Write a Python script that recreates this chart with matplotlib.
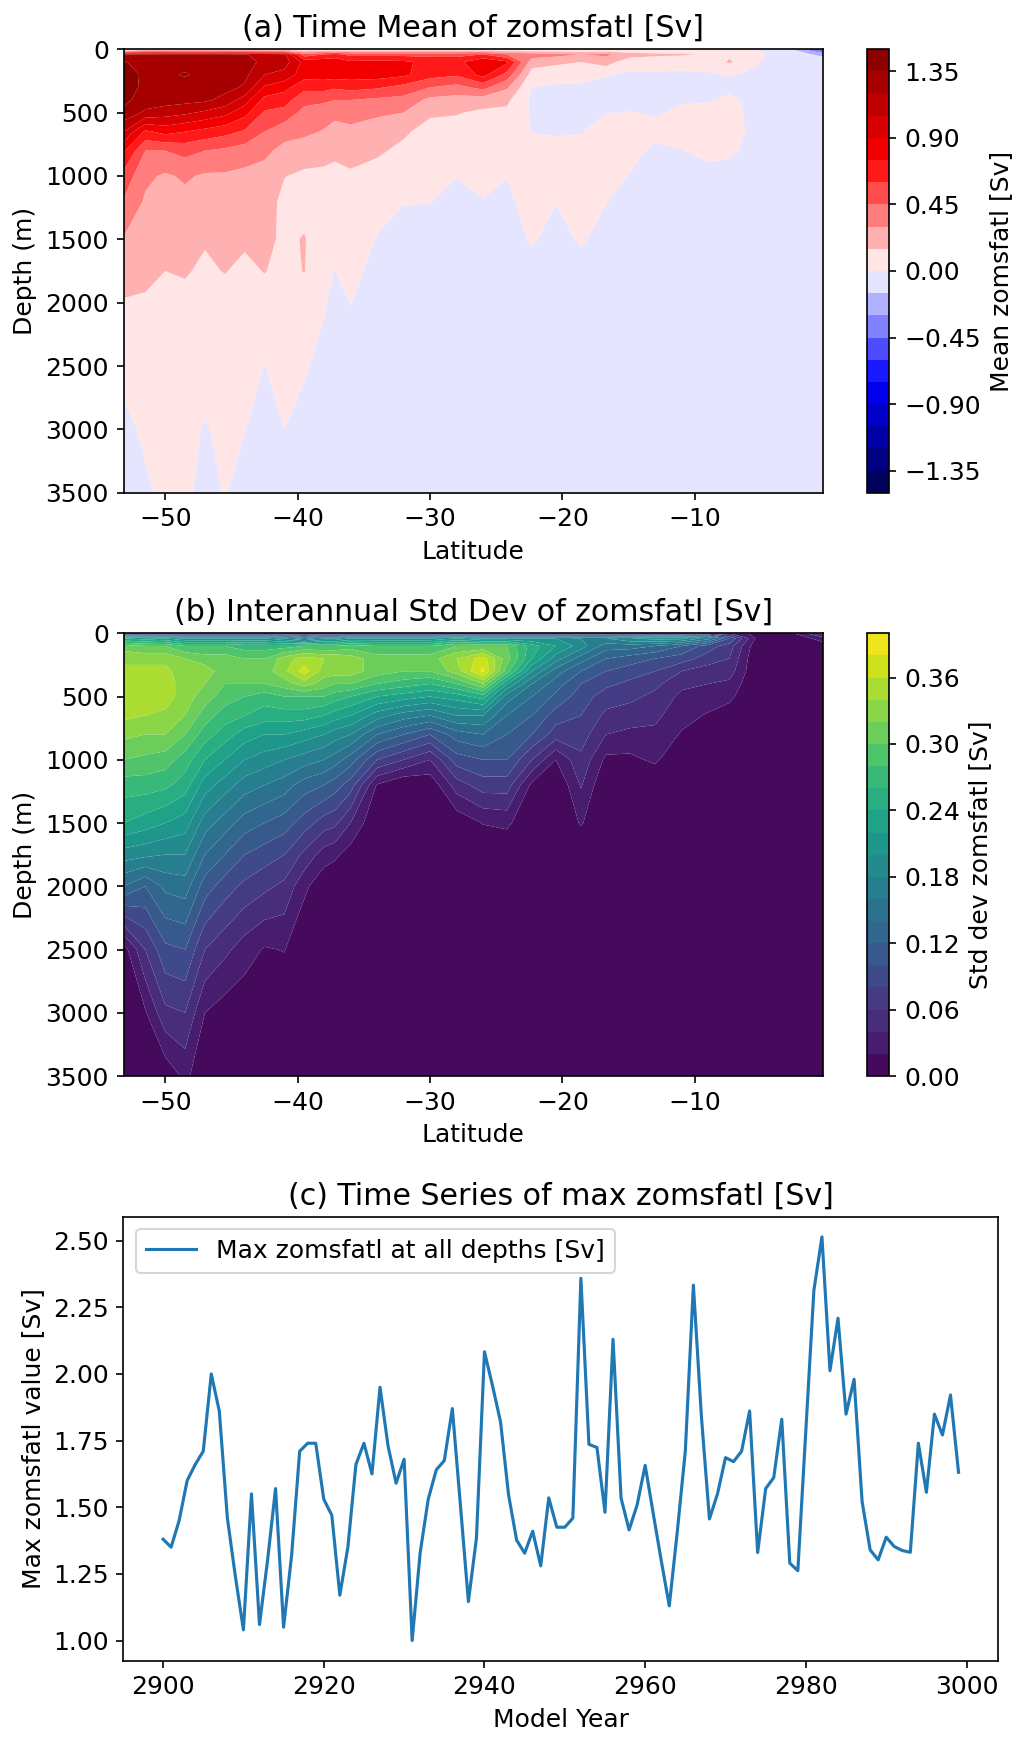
import numpy as np
import matplotlib
matplotlib.use("Agg")
import matplotlib.pyplot as plt

plt.rcParams["font.size"] = 12

# ---------------- data ----------------
LAT = [-53.15, -51.5, -50.0, -48.5, -47.0, -45.5, -44.0, -42.5, -41.0, -39.5,
       -38.0, -37.2, -36.0, -34.0, -32.0, -30.0, -28.0, -26.0, -24.2, -22.3,
       -20.5, -18.6, -16.7, -14.9, -13.0, -11.0, -9.0, -7.4, -5.3, -3.0, -0.3]

DEPTH = [0, 40, 100, 200, 300, 400, 500, 650, 800, 1000, 1200, 1500, 1750,
         2000, 2500, 3000, 3500]

# time-mean zomsfatl [Sv]; one profile (over DEPTH) per latitude in LAT
MEAN_PROFILES = [
    [-0.30, 1.22, 1.36, 1.40, 1.41, 1.39, 1.31, 1.05, 0.78, 0.55, 0.44, 0.29, 0.21, 0.14, 0.03, -0.03, -0.06],
    [0.00, 1.22, 1.30, 1.33, 1.32, 1.28, 1.17, 0.72, 0.45, 0.33, 0.28, 0.24, 0.17, 0.14, 0.07, 0.02, -0.02],
    [0.00, 1.24, 1.31, 1.33, 1.31, 1.27, 1.12, 0.80, 0.45, 0.28, 0.25, 0.21, 0.15, 0.12, 0.08, 0.05, 0.03],
    [0.00, 1.25, 1.31, 1.36, 1.30, 1.25, 1.08, 0.75, 0.50, 0.32, 0.26, 0.22, 0.16, 0.12, 0.07, 0.04, 0.02],
    [0.00, 1.25, 1.32, 1.32, 1.28, 1.23, 1.02, 0.70, 0.45, 0.28, 0.22, 0.16, 0.13, 0.09, 0.05, -0.01, -0.03],
    [0.00, 1.24, 1.30, 1.29, 1.25, 1.15, 0.95, 0.65, 0.42, 0.28, 0.23, 0.20, 0.155, 0.10, 0.05, 0.03, 0.005],
    [0.00, 1.22, 1.26, 1.24, 1.18, 0.98, 0.80, 0.58, 0.38, 0.26, 0.22, 0.17, 0.12, 0.08, 0.04, 0.002, -0.03],
    [0.00, 1.12, 1.16, 1.05, 0.88, 0.70, 0.58, 0.45, 0.33, 0.25, 0.22, 0.19, 0.155, 0.10, -0.002, -0.03, -0.05],
    [0.00, 1.10, 1.12, 1.00, 0.80, 0.66, 0.55, 0.35, 0.26, 0.155, 0.11, 0.12, 0.11, 0.08, 0.05, 0.00, -0.03],
    [0.00, 0.50, 0.85, 0.82, 0.64, 0.50, 0.40, 0.33, 0.23, 0.12, 0.10, 0.16, 0.155, 0.07, 0.01, -0.03, -0.05],
    [0.00, 0.60, 0.85, 0.82, 0.65, 0.48, 0.36, 0.29, 0.20, 0.12, 0.07, 0.05, 0.03, 0.01, -0.03, -0.05, -0.05],
    [0.00, 0.65, 0.85, 0.82, 0.62, 0.45, 0.33, 0.26, 0.18, 0.11, 0.07, 0.03, -0.002, -0.03, -0.04, -0.05, -0.05],
    [0.00, 0.55, 0.78, 0.82, 0.65, 0.45, 0.35, 0.27, 0.20, 0.13, 0.09, 0.06, 0.03, 0.002, -0.04, -0.05, -0.05],
    [0.00, 0.55, 0.80, 0.82, 0.62, 0.42, 0.32, 0.24, 0.17, 0.10, 0.03, -0.005, -0.03, -0.04, -0.05, -0.05, -0.05],
    [0.00, 0.55, 0.78, 0.78, 0.55, 0.40, 0.30, 0.17, 0.12, 0.07, 0.003, -0.03, -0.04, -0.04, -0.05, -0.05, -0.05],
    [0.00, 0.55, 0.70, 0.66, 0.45, 0.26, 0.17, 0.10, 0.08, 0.05, 0.002, -0.03, -0.04, -0.04, -0.04, -0.04, -0.04],
    [0.00, 0.55, 0.70, 0.62, 0.40, 0.24, 0.16, 0.09, 0.06, 0.002, -0.03, -0.04, -0.04, -0.04, -0.04, -0.04, -0.04],
    [0.00, 0.60, 0.88, 0.80, 0.50, 0.22, 0.12, 0.08, 0.06, 0.03, -0.003, -0.04, -0.04, -0.04, -0.04, -0.04, -0.04],
    [0.00, 0.45, 0.78, 0.55, 0.32, 0.18, 0.12, 0.08, 0.05, 0.002, -0.02, -0.04, -0.04, -0.04, -0.04, -0.04, -0.04],
    [0.00, 0.38, 0.22, 0.08, 0.00, -0.03, -0.02, -0.003, 0.03, 0.05, 0.04, 0.01, -0.03, -0.04, -0.04, -0.04, -0.04],
    [0.00, 0.35, 0.18, 0.06, -0.02, -0.04, -0.03, -0.01, 0.03, 0.04, 0.002, -0.03, -0.04, -0.04, -0.04, -0.04, -0.04],
    [0.00, 0.30, 0.15, 0.04, -0.02, -0.04, -0.03, -0.005, 0.03, 0.04, 0.03, 0.01, -0.03, -0.04, -0.04, -0.04, -0.04],
    [0.00, 0.33, 0.22, 0.005, -0.03, -0.03, -0.002, 0.04, 0.05, 0.04, 0.003, -0.03, -0.04, -0.04, -0.04, -0.04, -0.04],
    [0.00, 0.22, 0.05, -0.02, -0.03, -0.03, 0.003, 0.04, 0.03, -0.005, -0.03, -0.04, -0.04, -0.04, -0.04, -0.04, -0.04],
    [0.00, 0.18, 0.06, -0.02, -0.03, -0.03, -0.01, 0.03, -0.02, -0.04, -0.04, -0.04, -0.04, -0.04, -0.04, -0.04, -0.04],
    [0.00, 0.17, 0.04, -0.02, -0.03, -0.01, 0.02, 0.04, -0.003, -0.04, -0.04, -0.04, -0.04, -0.04, -0.04, -0.04, -0.04],
    [0.00, 0.13, 0.04, -0.01, -0.03, -0.01, 0.03, 0.05, 0.03, -0.04, -0.04, -0.04, -0.04, -0.04, -0.04, -0.04, -0.04],
    [0.00, 0.12, 0.17, 0.005, -0.02, 0.02, 0.04, 0.05, 0.02, -0.04, -0.04, -0.04, -0.04, -0.04, -0.04, -0.04, -0.04],
    [0.00, 0.02, 0.005, -0.01, -0.02, -0.03, -0.04, -0.04, -0.04, -0.04, -0.04, -0.04, -0.04, -0.04, -0.04, -0.04, -0.04],
    [-0.10, -0.05, -0.04, -0.04, -0.04, -0.04, -0.04, -0.04, -0.04, -0.04, -0.04, -0.04, -0.04, -0.04, -0.04, -0.04, -0.04],
    [-0.60, -0.20, -0.05, -0.04, -0.04, -0.04, -0.04, -0.04, -0.04, -0.04, -0.04, -0.04, -0.04, -0.04, -0.04, -0.04, -0.04],
]

# interannual std dev of zomsfatl [Sv]; one profile (over DEPTH) per latitude
STD_PROFILES = [
    [0.06, 0.24, 0.31, 0.335, 0.345, 0.35, 0.35, 0.345, 0.325, 0.30, 0.27, 0.24, 0.19, 0.14, 0.01, 0.003, 0.0],
    [0.05, 0.23, 0.30, 0.335, 0.345, 0.35, 0.35, 0.34, 0.32, 0.295, 0.27, 0.23, 0.185, 0.12, 0.06, 0.018, 0.0],
    [0.05, 0.22, 0.30, 0.335, 0.345, 0.35, 0.35, 0.335, 0.32, 0.29, 0.265, 0.22, 0.18, 0.145, 0.095, 0.055, 0.005],
    [0.05, 0.20, 0.28, 0.32, 0.33, 0.33, 0.33, 0.32, 0.30, 0.27, 0.25, 0.21, 0.18, 0.15, 0.10, 0.06, 0.025],
    [0.05, 0.20, 0.28, 0.31, 0.33, 0.32, 0.31, 0.29, 0.27, 0.24, 0.21, 0.17, 0.14, 0.11, 0.06, 0.02, 0.005],
    [0.05, 0.20, 0.28, 0.31, 0.31, 0.30, 0.29, 0.27, 0.25, 0.22, 0.19, 0.15, 0.12, 0.09, 0.045, 0.01, 0.0],
    [0.05, 0.20, 0.27, 0.30, 0.31, 0.30, 0.28, 0.26, 0.23, 0.20, 0.17, 0.13, 0.10, 0.075, 0.03, 0.005, 0.0],
    [0.05, 0.20, 0.27, 0.30, 0.31, 0.30, 0.27, 0.25, 0.22, 0.19, 0.16, 0.12, 0.09, 0.065, 0.018, 0.0, 0.0],
    [0.05, 0.18, 0.27, 0.33, 0.335, 0.31, 0.28, 0.25, 0.22, 0.18, 0.15, 0.11, 0.08, 0.055, 0.021, 0.0, 0.0],
    [0.05, 0.15, 0.28, 0.35, 0.37, 0.33, 0.28, 0.25, 0.21, 0.17, 0.13, 0.09, 0.055, 0.025, 0.0, 0.0, 0.0],
    [0.05, 0.18, 0.28, 0.34, 0.33, 0.31, 0.28, 0.24, 0.20, 0.16, 0.12, 0.07, 0.03, 0.005, 0.0, 0.0, 0.0],
    [0.05, 0.18, 0.28, 0.34, 0.33, 0.30, 0.27, 0.23, 0.19, 0.15, 0.11, 0.065, 0.025, 0.0, 0.0, 0.0, 0.0],
    [0.05, 0.20, 0.29, 0.33, 0.33, 0.30, 0.26, 0.22, 0.18, 0.13, 0.09, 0.04, 0.01, 0.0, 0.0, 0.0, 0.0],
    [0.05, 0.20, 0.28, 0.31, 0.31, 0.28, 0.24, 0.19, 0.14, 0.08, 0.018, 0.0, 0.0, 0.0, 0.0, 0.0, 0.0],
    [0.05, 0.20, 0.28, 0.31, 0.30, 0.27, 0.23, 0.17, 0.12, 0.06, 0.0, 0.0, 0.0, 0.0, 0.0, 0.0, 0.0],
    [0.05, 0.20, 0.28, 0.31, 0.30, 0.26, 0.22, 0.16, 0.10, 0.04, 0.005, 0.0, 0.0, 0.0, 0.0, 0.0, 0.0],
    [0.05, 0.22, 0.30, 0.34, 0.33, 0.28, 0.23, 0.18, 0.13, 0.09, 0.05, 0.005, 0.0, 0.0, 0.0, 0.0, 0.0],
    [0.05, 0.20, 0.30, 0.37, 0.385, 0.32, 0.25, 0.18, 0.14, 0.10, 0.07, 0.021, 0.0, 0.0, 0.0, 0.0, 0.0],
    [0.05, 0.20, 0.30, 0.31, 0.29, 0.22, 0.17, 0.14, 0.12, 0.10, 0.07, 0.025, 0.0, 0.0, 0.0, 0.0, 0.0],
    [0.05, 0.20, 0.25, 0.24, 0.20, 0.16, 0.14, 0.12, 0.10, 0.06, 0.015, 0.0, 0.0, 0.0, 0.0, 0.0, 0.0],
    [0.05, 0.20, 0.22, 0.19, 0.15, 0.13, 0.115, 0.09, 0.07, 0.02, 0.0, 0.0, 0.0, 0.0, 0.0, 0.0, 0.0],
    [0.05, 0.18, 0.19, 0.15, 0.12, 0.10, 0.09, 0.08, 0.07, 0.055, 0.042, 0.022, 0.0, 0.0, 0.0, 0.0, 0.0],
    [0.05, 0.18, 0.15, 0.12, 0.10, 0.085, 0.07, 0.055, 0.04, 0.015, 0.0, 0.0, 0.0, 0.0, 0.0, 0.0, 0.0],
    [0.05, 0.20, 0.15, 0.11, 0.09, 0.075, 0.065, 0.05, 0.035, 0.015, 0.0, 0.0, 0.0, 0.0, 0.0, 0.0, 0.0],
    [0.05, 0.21, 0.14, 0.10, 0.08, 0.065, 0.055, 0.045, 0.035, 0.024, 0.0, 0.0, 0.0, 0.0, 0.0, 0.0, 0.0],
    [0.05, 0.21, 0.12, 0.09, 0.06, 0.045, 0.035, 0.027, 0.018, 0.0, 0.0, 0.0, 0.0, 0.0, 0.0, 0.0, 0.0],
    [0.05, 0.17, 0.09, 0.07, 0.05, 0.04, 0.03, 0.018, 0.0, 0.0, 0.0, 0.0, 0.0, 0.0, 0.0, 0.0, 0.0],
    [0.04, 0.10, 0.07, 0.06, 0.05, 0.035, 0.025, 0.01, 0.0, 0.0, 0.0, 0.0, 0.0, 0.0, 0.0, 0.0, 0.0],
    [0.01, 0.015, 0.005, 0.0, 0.0, 0.0, 0.0, 0.0, 0.0, 0.0, 0.0, 0.0, 0.0, 0.0, 0.0, 0.0, 0.0],
    [0.01, 0.0, 0.0, 0.0, 0.0, 0.0, 0.0, 0.0, 0.0, 0.0, 0.0, 0.0, 0.0, 0.0, 0.0, 0.0, 0.0],
    [0.07, 0.03, 0.01, 0.0, 0.0, 0.0, 0.0, 0.0, 0.0, 0.0, 0.0, 0.0, 0.0, 0.0, 0.0, 0.0, 0.0],
]

YEARS = list(range(2900, 3000))
MAX_SV = [
    1.38, 1.35, 1.45, 1.60, 1.66, 1.71, 2.00, 1.86, 1.46, 1.24,
    1.04, 1.55, 1.06, 1.30, 1.57, 1.05, 1.32, 1.71, 1.74, 1.74,
    1.53, 1.47, 1.17, 1.35, 1.66, 1.74, 1.625, 1.95, 1.73, 1.59,
    1.68, 1.00, 1.33, 1.53, 1.64, 1.675, 1.87, 1.51, 1.146, 1.384,
    2.083, 1.956, 1.82, 1.546, 1.377, 1.3275, 1.41, 1.28, 1.535, 1.425,
    1.425, 1.459, 2.359, 1.736, 1.724, 1.481, 2.13, 1.534, 1.415, 1.509,
    1.657, 1.477, 1.30, 1.13, 1.409, 1.712, 2.333, 1.84, 1.456, 1.55,
    1.686, 1.671, 1.71, 1.861, 1.33, 1.57, 1.611, 1.83, 1.29, 1.262,
    1.79, 2.314, 2.514, 2.012, 2.209, 1.849, 1.98, 1.521, 1.34, 1.3025,
    1.3875, 1.3525, 1.3375, 1.331, 1.74, 1.556, 1.849, 1.771, 1.921, 1.631,
]

MEAN_LEVELS = np.round(np.linspace(-1.5, 1.5, 21), 10)
STD_LEVELS = np.round(np.linspace(0.0, 0.40, 21), 10)

# ---------------- figure ----------------
W, H = 1017, 1737
fig = plt.figure(figsize=(W / 150, H / 150), dpi=150)


def box(l, t, r, b):
    return [l / W, 1 - b / H, (r - l) / W, (b - t) / H]


lat = np.array(LAT)
dep = np.array(DEPTH)
zmean = np.array(MEAN_PROFILES).T
zstd = np.array(STD_PROFILES).T

# (a) mean
ax1 = fig.add_axes(box(123.5, 49.3, 823.3, 492.7))
cax1 = fig.add_axes(box(866.7, 49.3, 889.3, 492.7))
cf1 = ax1.contourf(lat, dep, zmean, levels=MEAN_LEVELS, cmap="seismic",
                   antialiased=True)
ax1.set_ylim(3500, 0)
ax1.set_title("(a) Time Mean of zomsfatl [Sv]")
ax1.set_xlabel("Latitude")
ax1.set_ylabel("Depth (m)")
cb1 = fig.colorbar(cf1, cax=cax1)
cb1.set_label("Mean zomsfatl [Sv]")

# (b) std
ax2 = fig.add_axes(box(123.5, 633.3, 823.3, 1076.0))
cax2 = fig.add_axes(box(866.7, 633.3, 889.3, 1076.0))
cf2 = ax2.contourf(lat, dep, zstd, levels=STD_LEVELS, cmap="viridis",
                   antialiased=True)
ax2.set_ylim(3500, 0)
ax2.set_title("(b) Interannual Std Dev of zomsfatl [Sv]")
ax2.set_xlabel("Latitude")
ax2.set_ylabel("Depth (m)")
cb2 = fig.colorbar(cf2, cax=cax2)
cb2.set_label("Std dev zomsfatl [Sv]")

# (c) time series
ax3 = fig.add_axes(box(123.3, 1216.7, 998.3, 1660.7))
ax3.plot(YEARS, MAX_SV, color="#1f77b4", lw=1.5,
         label="Max zomsfatl at all depths [Sv]")
ax3.set_title("(c) Time Series of max zomsfatl [Sv]")
ax3.set_xlabel("Model Year")
ax3.set_ylabel("Max zomsfatl value [Sv]")
ax3.set_xticks([2900, 2920, 2940, 2960, 2980, 3000])
ax3.legend(loc="upper left")

fig.savefig("out.png", dpi=150)
